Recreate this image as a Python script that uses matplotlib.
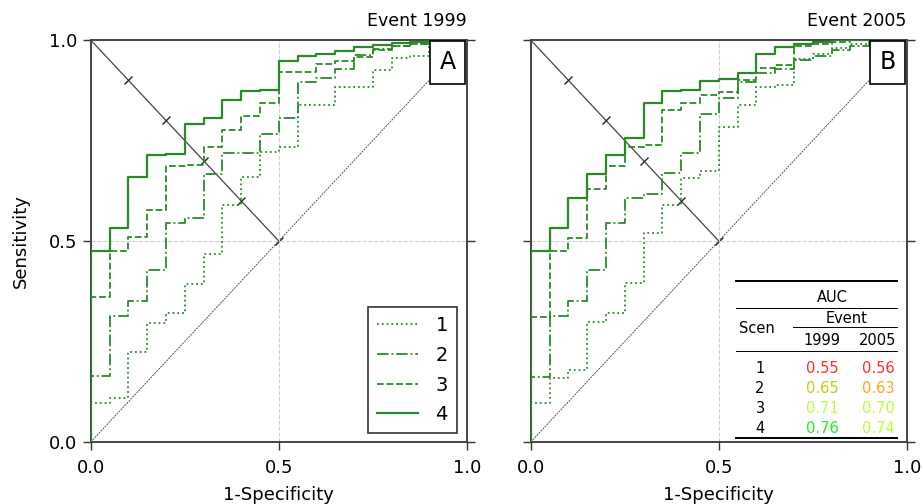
import matplotlib
matplotlib.use("Agg")
import matplotlib.pyplot as plt
from matplotlib.markers import MarkerStyle
from matplotlib.transforms import Affine2D

# ---------------- data ----------------
fpr = [0.00, 0.05, 0.10, 0.15, 0.20, 0.25, 0.30, 0.35, 0.40, 0.45, 0.50,
       0.55, 0.60, 0.65, 0.70, 0.75, 0.80, 0.85, 0.90, 0.95, 1.00]

scenarios = ["1", "2", "3", "4"]

# Event 1999 (panel A)
tpr_1999_s1 = [0.097, 0.109, 0.225, 0.297, 0.320, 0.394, 0.467, 0.590, 0.658, 0.722, 0.733,
               0.838, 0.838, 0.882, 0.882, 0.925, 0.955, 0.960, 0.985, 0.993, 1.000]
tpr_1999_s2 = [0.163, 0.314, 0.350, 0.427, 0.544, 0.558, 0.667, 0.720, 0.720, 0.766, 0.807,
               0.896, 0.906, 0.928, 0.962, 0.978, 0.985, 0.990, 0.993, 0.997, 1.000]
tpr_1999_s3 = [0.360, 0.476, 0.509, 0.577, 0.686, 0.688, 0.734, 0.777, 0.811, 0.844, 0.920,
               0.920, 0.940, 0.948, 0.958, 0.975, 0.985, 0.990, 0.995, 1.000, 1.000]
tpr_1999_s4 = [0.476, 0.532, 0.659, 0.714, 0.716, 0.791, 0.805, 0.851, 0.873, 0.876, 0.948,
               0.960, 0.965, 0.972, 0.982, 0.987, 0.992, 0.996, 1.000, 1.000, 1.000]

# Event 2005 (panel B)
tpr_2005_s1 = [0.097, 0.159, 0.178, 0.298, 0.322, 0.395, 0.519, 0.590, 0.656, 0.673, 0.783,
               0.838, 0.882, 0.888, 0.952, 0.965, 0.980, 0.990, 1.000, 1.000, 1.000]
tpr_2005_s2 = [0.162, 0.314, 0.350, 0.427, 0.544, 0.608, 0.616, 0.670, 0.718, 0.815, 0.855,
               0.895, 0.919, 0.928, 0.950, 0.960, 0.975, 0.985, 0.990, 0.995, 1.000]
tpr_2005_s3 = [0.312, 0.474, 0.508, 0.629, 0.686, 0.735, 0.739, 0.826, 0.844, 0.863, 0.871,
               0.900, 0.930, 0.937, 0.985, 0.990, 0.995, 1.000, 1.000, 1.000, 1.000]
tpr_2005_s4 = [0.476, 0.532, 0.608, 0.667, 0.714, 0.756, 0.844, 0.874, 0.876, 0.899, 0.902,
               0.919, 0.964, 0.983, 0.990, 0.995, 1.000, 1.000, 1.000, 1.000, 1.000]

auc_1999 = ["0.55", "0.65", "0.71", "0.76"]
auc_2005 = ["0.56", "0.63", "0.70", "0.74"]
auc_colors_1999 = ["#ff2a2a", "#c8c81e", "#b4ff3c", "#1eee1e"]
auc_colors_2005 = ["#ff2a2a", "#ffa51e", "#b4ff3c", "#b4ff3c"]

diag_ticks_x = [0.1, 0.2, 0.3, 0.4, 0.5]
axis_ticks = [0.0, 0.5, 1.0]
tick_labels = ["0.0", "0.5", "1.0"]

# ---------------- styling ----------------
green = "#2a8a2a"
styles = [":", "-.", "--", "-"]
widths = [1.3, 1.3, 1.3, 1.6]

fig = plt.figure(figsize=(9.23, 5.04), dpi=100)
axA = fig.add_axes([0.0983, 0.123, 0.4074, 0.7976])
axB = fig.add_axes([0.5750, 0.123, 0.4074, 0.7976])

tick_marker = MarkerStyle("|", transform=Affine2D().rotate_deg(-45))

def draw_panel(ax, series, title, letter):
    # reference lines
    ax.plot([0, 1], [0, 1], color="#555555", lw=0.7, ls=(0, (2, 1)), zorder=1)
    ax.plot([0, 0.5], [1, 0.5], color="#444444", lw=0.9, zorder=1)
    ax.plot(diag_ticks_x, [1 - v for v in diag_ticks_x], ls="none",
            marker=tick_marker, ms=8, mec="#222222", mew=1.0, zorder=1)
    handles = []
    for vals, ls, lw, lab in zip(series, styles, widths, scenarios):
        xs = [0.0] + fpr
        ys = [0.0] + vals
        h, = ax.step(xs, ys, where="post", color=green, ls=ls, lw=lw, label=lab, zorder=3)
        handles.append(h)
    ax.set_xlim(0, 1)
    ax.set_ylim(0, 1)
    ax.set_xticks(axis_ticks)
    ax.set_xticklabels(tick_labels)
    ax.set_yticks(axis_ticks)
    ax.grid(True, ls="--", color="#d0d0d0", lw=0.8, zorder=0)
    ax.tick_params(direction="out", length=6, width=1.0, colors="#333333",
                   labelcolor="black", labelsize=13, right=True)
    ax.tick_params(axis="x", pad=6)
    for s in ax.spines.values():
        s.set_color("#444444")
        s.set_linewidth(1.4)
    ax.set_title(title, loc="right", fontsize=12.5, pad=10)
    ax.set_xlabel("1-Specificity", fontsize=13, labelpad=7)
    ax.text(0.949, 0.945, letter, transform=ax.transAxes, ha="center", va="center",
            fontsize=17, bbox=dict(boxstyle="square,pad=0.4", fc="white", ec="black", lw=1.2),
            zorder=5)
    return handles

hA = draw_panel(axA, [tpr_1999_s1, tpr_1999_s2, tpr_1999_s3, tpr_1999_s4], "Event 1999", "A")
axA.set_yticklabels(tick_labels)
axA.set_ylabel("Sensitivity", fontsize=13, labelpad=14)
leg = axA.legend(handles=hA, loc="lower right", fontsize=14, frameon=True, fancybox=False,
                 edgecolor="black", handlelength=2.1, borderpad=0.45, labelspacing=0.55,
                 handletextpad=0.9, borderaxespad=0.0, bbox_to_anchor=(0.973, 0.0224))
leg.get_frame().set_linewidth(1.2)

draw_panel(axB, [tpr_2005_s1, tpr_2005_s2, tpr_2005_s3, tpr_2005_s4], "Event 2005", "B")
axB.set_yticklabels([])

# ---------------- AUC table (panel B) ----------------
def fx(px):
    return (px - 530.7) / 376.0

def fy(py):
    return (442.0 - py) / 402.0

tr = axB.transAxes
x0, x1 = fx(736), fx(897)
axB.plot([x0, x1], [fy(281), fy(281)], transform=tr, color="black", lw=1.4, clip_on=False, zorder=6)
axB.text(fx(832), fy(297), "AUC", transform=tr, ha="center", va="center", fontsize=10.5, zorder=6)
axB.plot([x0, x1], [fy(308), fy(308)], transform=tr, color="black", lw=0.7, zorder=6)
axB.text(fx(847), fy(318), "Event", transform=tr, ha="center", va="center", fontsize=10.5, zorder=6)
axB.plot([fx(793), x1], [fy(326.5), fy(326.5)], transform=tr, color="black", lw=0.7, zorder=6)
axB.text(fx(757), fy(328), "Scen", transform=tr, ha="center", va="center", fontsize=10.5, zorder=6)
axB.text(fx(822), fy(340), "1999", transform=tr, ha="center", va="center", fontsize=10.5, zorder=6)
axB.text(fx(878), fy(340), "2005", transform=tr, ha="center", va="center", fontsize=10.5, zorder=6)
axB.plot([x0, x1], [fy(351), fy(351)], transform=tr, color="black", lw=0.7, zorder=6)
row_y = [368, 388, 408, 428]
for i, sc in enumerate(scenarios):
    axB.text(fx(760), fy(row_y[i]), sc, transform=tr, ha="center", va="center", fontsize=10.5, zorder=6)
    axB.text(fx(822), fy(row_y[i]), auc_1999[i], transform=tr, ha="center", va="center",
             fontsize=10.5, color=auc_colors_1999[i], zorder=6)
    axB.text(fx(878), fy(row_y[i]), auc_2005[i], transform=tr, ha="center", va="center",
             fontsize=10.5, color=auc_colors_2005[i], zorder=6)
axB.plot([x0, x1], [fy(437.5), fy(437.5)], transform=tr, color="black", lw=1.4, zorder=6)

fig.savefig("out.png", dpi=100)
